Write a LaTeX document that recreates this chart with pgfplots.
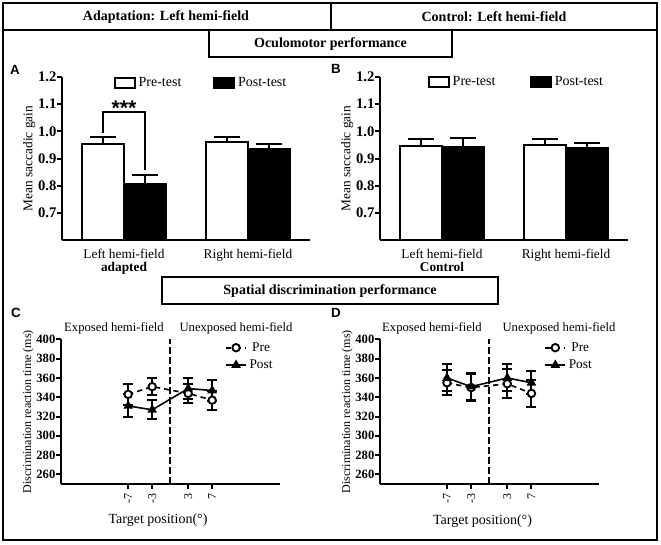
\documentclass[border=0pt]{standalone}
\usepackage{fontspec}
\setmainfont{Liberation Serif}
\newfontfamily\sansf{Liberation Sans}
\usepackage{pgfplots}
\pgfplotsset{compat=1.18}

\pgfplotsset{
  barax/.style={
    scale only axis, width=186pt, height=122.25pt, anchor=south west,
    xmin=-0.5, xmax=1.5, ymin=0.6, ymax=1.2,
    axis x line=bottom, axis y line=left,
    axis line style={-, line width=1.5pt},
    tick align=outside, major tick length=3.5pt,
    ytick={0.7,0.8,0.9,1.0,1.1,1.2},
    yticklabels={0.7,0.8,0.9,1.0,1.1,1.2},
    ytick style={line width=1.5pt, black},
    yticklabel style={font=\fontsize{11}{11}\selectfont\bfseries, inner sep=0.5pt},
    xtick={0,1}, xtick style={draw=none},
    xticklabel style={align=center, font=\fontsize{10}{9.5}\selectfont},
    ylabel={Mean saccadic gain}, ylabel shift=-2pt,
    ylabel style={font=\fontsize{10}{12}\selectfont},
    ybar, bar width=0.34, bar shift=0pt,
    legend columns=2,
    legend style={draw=none, fill=none, font=\fontsize{10.5}{12}\selectfont,
      anchor=center, inner sep=0pt,
      /tikz/every even column/.append style={column sep=22pt}},
    legend image code/.code={\draw[#1] (0pt,-3.75pt) rectangle (15pt,3.75pt);},
    errb/.style={error bars/.cd, y dir=plus, y explicit,
      error bar style={line width=1.5pt, black},
      error mark options={rotate=90, mark size=10pt, line width=1.5pt, black}},
  },
  prebar/.style={fill=white, draw=black, line width=1.5pt},
  postbar/.style={fill=black, draw=black, line width=1.5pt},
  lineax/.style={
    scale only axis, width=164.25pt, height=108.45pt, anchor=south west,
    ymin=250, ymax=400,
    axis x line=bottom, axis y line=left,
    axis line style={-, line width=1.5pt},
    tick align=outside, major tick length=3.5pt,
    tick style={line width=1.5pt, black},
    ytick={260,280,300,320,340,360,380,400},
    yticklabels={260,280,300,320,340,360,380,400},
    yticklabel style={font=\fontsize{9.5}{10}\selectfont\bfseries, inner sep=0.5pt},
    xtick={-7,-3,3,7}, xticklabels={-7,-3,3,7},
    xticklabel style={rotate=90, anchor=east, font=\fontsize{9}{9}\selectfont},
    ylabel={Discrimination reaction time (ms)}, ylabel shift=-2pt,
    ylabel style={font=\fontsize{9}{10}\selectfont},
    xlabel={Target position(°)},
    xlabel style={font=\fontsize{10.5}{12}\selectfont, anchor=center},
    legend style={draw=none, fill=none, font=\fontsize{10}{12}\selectfont,
      anchor=north west, inner sep=0pt, row sep=1pt},
    legend image code/.code={\draw[mark repeat=2, mark phase=2, #1]
      plot coordinates {(0pt,0pt) (7.5pt,0pt) (15pt,0pt)};},
    lerr/.style={error bars/.cd, y dir=both, y explicit,
      error bar style={line width=1.5pt, black, solid},
      error mark options={rotate=90, mark size=3.75pt, line width=1.5pt, black, solid}},
  },
  preline/.style={black, line width=1.2pt, dash pattern=on 4pt off 3pt,
    mark=*, mark size=2.8pt, mark options={solid, fill=white, draw=black, line width=1.4pt}},
  postline/.style={black, line width=1.2pt, solid,
    mark=triangle*, mark size=3pt, mark options={solid, fill=black}},
}

\begin{document}
\begin{tikzpicture}[x=0.75pt,y=-0.75pt]
\useasboundingbox (0,0) rectangle (661,544);

% frames
\draw[line width=1.5pt] (3,3) rectangle (331,30);
\draw[line width=1.5pt] (331,3) rectangle (657,30);
\draw[line width=1.5pt] (3,30) rectangle (657,540);
\node[font=\fontsize{10.5}{12}\selectfont\bfseries] at (166,17) {Adaptation: Left hemi-field};
\node[font=\fontsize{10.5}{12}\selectfont\bfseries] at (494,17) {Control: Left hemi-field};
\draw[line width=1.5pt, fill=white] (209,30) rectangle (452,57);
\node[font=\fontsize{10.5}{12}\selectfont\bfseries] at (330.5,44) {Oculomotor performance};
\draw[line width=1.5pt, fill=white] (162,277) rectangle (498,304);
\node[font=\fontsize{10.5}{12}\selectfont\bfseries] at (330,291) {Spatial discrimination performance};

% panel letters
\node[font=\sansf\bfseries\fontsize{10}{12}\selectfont] at (15,70) {A};
\node[font=\sansf\bfseries\fontsize{10}{12}\selectfont] at (336,69) {B};
\node[font=\sansf\bfseries\fontsize{10}{12}\selectfont] at (16,313) {C};
\node[font=\sansf\bfseries\fontsize{10}{12}\selectfont] at (336,313) {D};

% A
\begin{axis}[barax, at={(46.5pt,-180pt)},
  xticklabels={{Left hemi-field\\\textbf{adapted}},{Right hemi-field}},
  legend style={at={(rel axis cs:0.5625,0.963)}}]
\addplot[prebar, errb] coordinates {(-0.17,0.953) +- (0,0.025) (0.83,0.962) +- (0,0.016)};
\addlegendentry{Pre-test}
\addplot[postbar, errb] coordinates {(0.17,0.807) +- (0,0.032) (1.17,0.936) +- (0,0.018)};
\addlegendentry{Post-test}
\draw[line width=1.5pt] (axis cs:-0.17,0.995) -- (axis cs:-0.17,1.072)
  -- (axis cs:0.17,1.072) -- (axis cs:0.17,0.858);
\node[font=\sansf\bfseries\fontsize{16}{16}\selectfont, anchor=base]
  at (axis cs:0,1.06) {***};
\end{axis}

% B
\begin{axis}[barax, at={(285pt,-180pt)},
  xticklabels={{Left hemi-field\\\textbf{Control}},{Right hemi-field}},
  legend style={at={(rel axis cs:0.552,0.97)},
    /tikz/every even column/.append style={column sep=24pt}}]
\addplot[prebar, errb] coordinates {(-0.17,0.946) +- (0,0.025) (0.83,0.949) +- (0,0.022)};
\addlegendentry{Pre-test}
\addplot[postbar, errb] coordinates {(0.17,0.944) +- (0,0.033) (1.17,0.938) +- (0,0.020)};
\addlegendentry{Post-test}
\end{axis}

% C
\begin{axis}[lineax, at={(45.75pt,-363pt)}, xmin=-18.2, xmax=18.3,
  xlabel style={at={(axis description cs:0.443,-0.25)}},
  legend style={at={(rel axis cs:0.749,1.0)}}]
\addplot[preline, lerr] coordinates {(-7,343) +- (0,11) (-3,351) +- (0,9)
  (3,344) +- (0,10) (7,337) +- (0,10)};
\addlegendentry{Pre}
\addplot[postline, lerr] coordinates {(-7,331) +- (0,12) (-3,327) +- (0,10)
  (3,349) +- (0,11) (7,347) +- (0,11)};
\addlegendentry{Post}
\draw[line width=1.5pt, dash pattern=on 5pt off 2.5pt] (axis cs:0,402) -- (axis cs:0,250);
\end{axis}
\node[font=\fontsize{9.5}{11}\selectfont] at (114,328) {Exposed hemi-field};
\node[font=\fontsize{9.5}{11}\selectfont] at (236,328) {Unexposed hemi-field};

% D
\begin{axis}[lineax, at={(285pt,-363pt)}, xmin=-18.1, xmax=18.2,
  xlabel style={at={(axis description cs:0.468,-0.255)}},
  legend style={at={(rel axis cs:0.75,1.0)}}]
\addplot[preline, lerr] coordinates {(-7,355) +- (0,13) (-3,350) +- (0,14)
  (3,354) +- (0,15) (7,344) +- (0,14)};
\addlegendentry{Pre}
\addplot[postline, lerr] coordinates {(-7,360) +- (0,14) (-3,351) +- (0,14)
  (3,360) +- (0,14) (7,355) +- (0,12)};
\addlegendentry{Post}
\draw[line width=1.5pt, dash pattern=on 5pt off 2.5pt] (axis cs:0,402) -- (axis cs:0,250);
\end{axis}
\node[font=\fontsize{9.5}{11}\selectfont] at (432,328) {Exposed hemi-field};
\node[font=\fontsize{9.5}{11}\selectfont] at (559,328) {Unexposed hemi-field};
\end{tikzpicture}
\end{document}
